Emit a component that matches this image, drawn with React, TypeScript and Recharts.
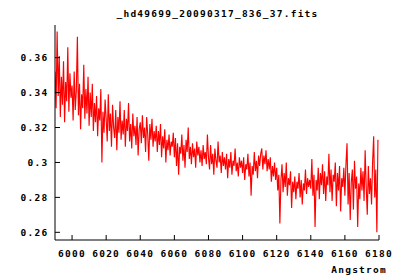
import React from 'react';
import { LineChart, Line, XAxis, YAxis } from 'recharts';

const titleText = '_hd49699_20090317_836_37.fits';
const xLabel = 'Angstrom';
const xTicks = [6000, 6020, 6040, 6060, 6080, 6100, 6120, 6140, 6160, 6180];
const yTicks = [0.26, 0.28, 0.3, 0.32, 0.34, 0.36];
const sampleStep = 0.625;

const flux5990 = [0.352, 0.331, 0.375, 0.338, 0.361, 0.326, 0.349, 0.333, 0.358, 0.323, 0.346, 0.335, 0.366, 0.329, 0.351, 0.337];
const flux6000 = [0.344, 0.324, 0.352, 0.330, 0.341, 0.372, 0.327, 0.345, 0.319, 0.339, 0.331, 0.356, 0.325, 0.342, 0.328, 0.349];
const flux6010 = [0.321, 0.340, 0.326, 0.345, 0.318, 0.334, 0.323, 0.338, 0.315, 0.331, 0.324, 0.342, 0.300, 0.329, 0.317, 0.336];
const flux6020 = [0.325, 0.312, 0.339, 0.318, 0.328, 0.309, 0.333, 0.320, 0.314, 0.330, 0.307, 0.326, 0.317, 0.335, 0.313, 0.324];
const flux6030 = [0.316, 0.330, 0.309, 0.325, 0.318, 0.334, 0.312, 0.322, 0.308, 0.328, 0.315, 0.321, 0.310, 0.326, 0.304, 0.319];
const flux6040 = [0.323, 0.311, 0.327, 0.314, 0.320, 0.306, 0.326, 0.316, 0.301, 0.322, 0.313, 0.325, 0.309, 0.318, 0.312, 0.321];
const flux6050 = [0.306, 0.318, 0.310, 0.322, 0.303, 0.315, 0.308, 0.319, 0.300, 0.313, 0.307, 0.316, 0.304, 0.312, 0.309, 0.317];
const flux6060 = [0.303, 0.314, 0.298, 0.311, 0.293, 0.309, 0.305, 0.316, 0.301, 0.310, 0.297, 0.313, 0.306, 0.320, 0.302, 0.309];
const flux6070 = [0.299, 0.311, 0.303, 0.308, 0.297, 0.312, 0.304, 0.309, 0.300, 0.307, 0.298, 0.310, 0.302, 0.306, 0.299, 0.316];
const flux6080 = [0.303, 0.296, 0.310, 0.299, 0.305, 0.293, 0.308, 0.301, 0.297, 0.312, 0.300, 0.304, 0.294, 0.306, 0.298, 0.303];
const flux6090 = [0.296, 0.305, 0.291, 0.302, 0.297, 0.306, 0.293, 0.301, 0.298, 0.308, 0.295, 0.300, 0.292, 0.303, 0.297, 0.301];
const flux6100 = [0.294, 0.303, 0.290, 0.299, 0.296, 0.305, 0.292, 0.300, 0.281, 0.298, 0.293, 0.306, 0.295, 0.301, 0.291, 0.304];
const flux6110 = [0.298, 0.305, 0.308, 0.296, 0.304, 0.299, 0.307, 0.295, 0.302, 0.296, 0.303, 0.289, 0.298, 0.292, 0.300, 0.290];
const flux6120 = [0.297, 0.284, 0.293, 0.265, 0.290, 0.299, 0.283, 0.294, 0.286, 0.300, 0.281, 0.291, 0.287, 0.295, 0.274, 0.289];
const flux6130 = [0.283, 0.292, 0.279, 0.289, 0.285, 0.294, 0.280, 0.290, 0.276, 0.288, 0.284, 0.296, 0.282, 0.291, 0.286, 0.290];
const flux6140 = [0.285, 0.302, 0.281, 0.293, 0.263, 0.290, 0.284, 0.297, 0.279, 0.294, 0.287, 0.299, 0.282, 0.295, 0.278, 0.292];
const flux6150 = [0.287, 0.305, 0.283, 0.296, 0.278, 0.293, 0.289, 0.300, 0.275, 0.294, 0.284, 0.298, 0.272, 0.291, 0.286, 0.297];
const flux6160 = [0.281, 0.299, 0.311, 0.276, 0.294, 0.267, 0.289, 0.296, 0.273, 0.301, 0.285, 0.292, 0.263, 0.288, 0.279, 0.297];
const flux6170 = [0.284, 0.295, 0.278, 0.307, 0.286, 0.270, 0.298, 0.282, 0.291, 0.276, 0.300, 0.315, 0.280, 0.296, 0.260, 0.313];

const segments: [number, number[]][] = [
  [5990, flux5990], [6000, flux6000], [6010, flux6010], [6020, flux6020],
  [6030, flux6030], [6040, flux6040], [6050, flux6050], [6060, flux6060],
  [6070, flux6070], [6080, flux6080], [6090, flux6090], [6100, flux6100],
  [6110, flux6110], [6120, flux6120], [6130, flux6130], [6140, flux6140],
  [6150, flux6150], [6160, flux6160], [6170, flux6170],
];

const data = segments.flatMap(([start, vals]) =>
  vals.map((f, i) => ({ w: start + i * sampleStep, f }))
);

const font = 'DejaVu Sans Mono';
const textStyle = { fontFamily: font, fontWeight: 'bold', fontSize: 9.5, letterSpacing: 1.25 };
const tickStyle = { ...textStyle, fill: '#000' };
const noLabel = () => '';

export default function App() {
  return (
    <div style={{ position: 'absolute', left: 0, top: 0, width: 400, height: 280, background: '#fff' }}>
      <LineChart width={400} height={280} data={data} margin={{ top: 25, right: 21, left: 0, bottom: 0 }}>
        <XAxis
          dataKey="w"
          type="number"
          domain={[5990, 6180]}
          allowDataOverflow
          ticks={xTicks}
          interval={0}
          height={40}
          tickSize={-5}
          tickMargin={15.5}
          tick={tickStyle}
          stroke="#000"
        />
        <XAxis
          xAxisId="top"
          orientation="top"
          dataKey="w"
          type="number"
          domain={[5990, 6180]}
          allowDataOverflow
          ticks={xTicks}
          interval={0}
          height={0}
          mirror
          tickSize={5}
          tickFormatter={noLabel}
          stroke="#000"
        />
        <YAxis
          type="number"
          domain={[0.2556, 0.3787]}
          allowDataOverflow
          ticks={yTicks}
          interval={0}
          width={55}
          tickSize={-5}
          tickMargin={11.5}
          tick={tickStyle}
          stroke="#000"
        />
        <YAxis
          yAxisId="right"
          orientation="right"
          type="number"
          domain={[0.2556, 0.3787]}
          allowDataOverflow
          ticks={yTicks}
          interval={0}
          width={0}
          mirror
          tickSize={5}
          tickFormatter={noLabel}
          stroke="#000"
        />
        <Line
          type="linear"
          dataKey="f"
          stroke="#ff0000"
          strokeWidth={1.15}
          dot={false}
          isAnimationActive={false}
        />
      </LineChart>
      <svg width={400} height={280} style={{ position: 'absolute', left: 0, top: 0, pointerEvents: 'none' }}>
        <text x={217.5} y={17} textAnchor="middle" style={textStyle} fill="#000">
          {titleText}
        </text>
        <text x={387} y={273} textAnchor="end" style={textStyle} fill="#000">
          {xLabel}
        </text>
      </svg>
    </div>
  );
}
